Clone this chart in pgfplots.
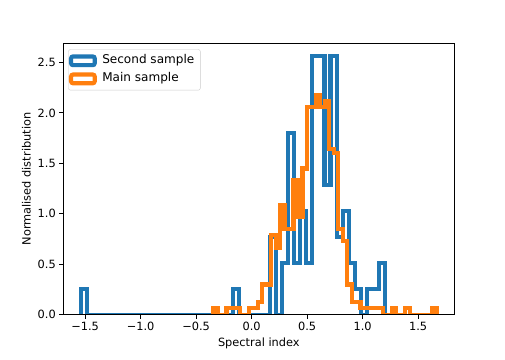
\documentclass[border=0pt]{standalone}
\usepackage{fontspec}
\setmainfont{DejaVu Sans}
\usepackage{pgfplots}
\pgfplotsset{compat=1.18}
\definecolor{mplblue}{HTML}{1F77B4}
\definecolor{mplorange}{HTML}{FF7F0E}
\newcommand{\mplfont}{\fontsize{11.4}{13.7}\selectfont}
\newcommand{\legfont}{\fontsize{12.1}{14.5}\selectfont}

\begin{document}
\begin{tikzpicture}[font=\mplfont]
  \path (0,0) rectangle (505bp,360bp);
  \begin{axis}[
    at={(63.3bp,45.3bp)}, anchor=south west,
    scale only axis, width=391bp, height=271.4bp,
    xmin=-1.697, xmax=1.826, ymin=0, ymax=2.69,
    axis on top,
    axis line style={line width=0.9bp},
    tick style={line width=0.9bp, black},
    tick align=outside, major tick length=4bp,
    xtick pos=left, ytick pos=left,
    xtick={-1.5,-1.0,-0.5,0,0.5,1.0,1.5},
    xticklabels={−1.5,−1.0,−0.5,0.0,0.5,1.0,1.5},
    ytick={0,0.5,1.0,1.5,2.0,2.5},
    yticklabels={0.0,0.5,1.0,1.5,2.0,2.5},
    tick label style={font=\mplfont},
    label style={font=\mplfont},
    xlabel={Spectral index}, ylabel={Normalised distribution},
    legend cell align=left,
    legend image code/.code={
      \draw[#1, line width=4.2bp, line join=miter] (0bp,-4.35bp) rectangle (23.6bp,4.35bp);
    },
    legend style={at={(0,1)}, anchor=north west, xshift=5bp, yshift=-6bp,
      font=\legfont,
      draw=black!20, rounded corners=2bp, fill=white, fill opacity=0.8,
      text opacity=1, inner xsep=0.5bp, inner ysep=2.5bp, row sep=0.5bp,
      nodes={inner xsep=5.5bp, inner ysep=3bp, text height=8.9bp, text depth=2.7bp}},
  ]
    % Second sample: left edge of each run, height (density)
    \addplot[const plot, draw=mplblue, line width=4.2bp, line join=miter] coordinates {
      (-1.537,0) (-1.537,0.257) (-1.482,0) (-0.166,0.257) (-0.111,0)
      (0.163,0.770) (0.218,0) (0.273,0.514) (0.328,1.798) (0.382,0.514)
      (0.437,1.027) (0.492,0.514) (0.547,2.568) (0.657,1.284) (0.711,2.568)
      (0.766,0.770) (0.821,1.027) (0.876,0.514) (0.931,0.257) (0.986,0)
      (1.040,0.257) (1.150,0.514) (1.205,0)
    };
    \addlegendentry{Second sample}
    % Main sample
    \addplot[const plot, draw=mplorange, line width=4.2bp, line join=miter] coordinates {
      (-0.348,0) (-0.348,0.063) (-0.308,0) (-0.227,0.063) (-0.106,0)
      (-0.026,0.063) (0.055,0.125) (0.095,0.30) (0.176,0.79) (0.216,0.66)
      (0.256,1.09) (0.296,0.85) (0.377,1.33) (0.417,0.97) (0.458,1.45)
      (0.498,2.06) (0.578,2.18) (0.619,2.06) (0.659,2.12) (0.699,1.64)
      (0.740,1.60) (0.780,0.85) (0.820,0.73) (0.860,0.30) (0.901,0.125)
      (0.981,0.063) (1.183,0) (1.263,0.063) (1.303,0) (1.384,0.063)
      (1.424,0) (1.626,0.063) (1.666,0)
    };
    \addlegendentry{Main sample}
  \end{axis}
\end{tikzpicture}
\end{document}
